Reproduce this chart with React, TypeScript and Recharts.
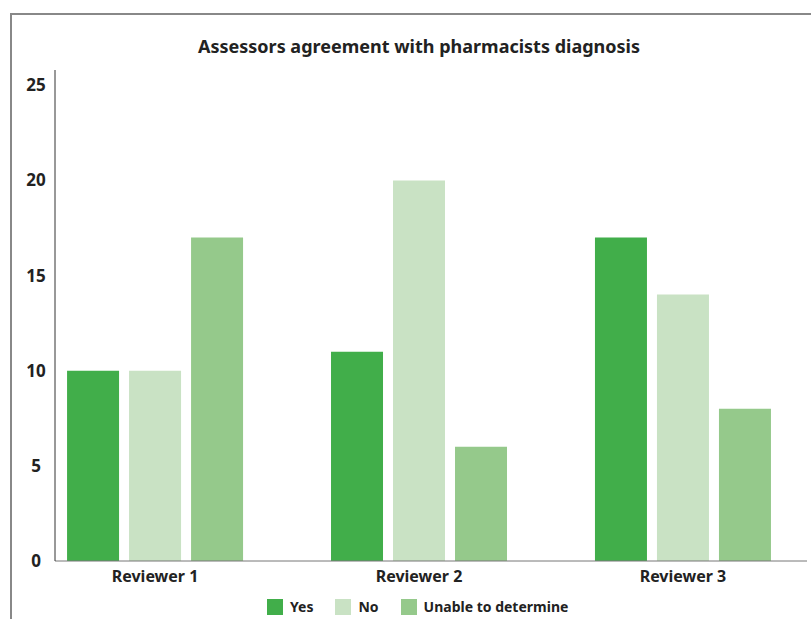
import { BarChart, Bar, XAxis, YAxis } from 'recharts';

const reviewers = ['Reviewer 1', 'Reviewer 2', 'Reviewer 3'];
const yesValues = [10, 11, 17];
const noValues = [10, 20, 14];
const unableValues = [17, 6, 8];
const yTicks = [0, 5, 10, 15, 20, 25];

const series = [
  { key: 'yes', name: 'Yes', color: '#41ae4a' },
  { key: 'no', name: 'No', color: '#c9e2c4' },
  { key: 'unable', name: 'Unable to determine', color: '#95c98b' },
];

const data = reviewers.map((name, i) => ({
  idx: i,
  name,
  yes: yesValues[i],
  no: noValues[i],
  unable: unableValues[i],
}));

const font = '"Noto Sans", "DejaVu Sans", sans-serif';

export default function App() {
  return (
    <div style={{ position: 'fixed', left: 0, top: 0, width: 811, height: 619, overflow: 'hidden', background: '#fff', fontFamily: font }}>
      <div
        style={{
          position: 'absolute',
          left: 10,
          top: 13,
          width: 900,
          height: 700,
          borderLeft: '2px solid #888',
          borderTop: '2px solid #888',
        }}
      />
      <div
        style={{
          position: 'absolute',
          left: 0,
          width: 838,
          top: 34,
          textAlign: 'center',
          fontWeight: 700,
          fontSize: 18,
          color: '#222',
        }}
      >
        Assessors agreement with pharmacists diagnosis
      </div>
      <div style={{ position: 'absolute', left: 0, top: 0 }}>
        <BarChart
          width={811}
          height={619}
          data={data}
          margin={{ top: 70, right: 4, bottom: 28, left: 0 }}
          barSize={52}
          barGap={10}
        >
          <XAxis
            dataKey="idx"
            type="number"
            domain={[-0.379, 2.47]}
            allowDataOverflow
            ticks={[0, 1, 2]}
            tickFormatter={(i: number) => reviewers[i]}
            height={30}
            stroke="#777"
            tickLine={false}
            tickMargin={4}
            tick={{ fill: '#222', fontSize: 16, fontWeight: 700, fontFamily: font }}
          />
          <YAxis
            domain={[0, 25.8]}
            ticks={yTicks}
            width={55}
            stroke="#333"
            tickLine={false}
            tickMargin={13}
            interval={0}
            tick={{ fill: '#222', fontSize: 17, fontWeight: 700, fontFamily: font, textAnchor: 'middle' }}
          />
          {series.map((s) => (
            <Bar key={s.key} dataKey={s.key} name={s.name} fill={s.color} isAnimationActive={false} />
          ))}
        </BarChart>
      </div>
      <div
        style={{
          position: 'absolute',
          top: 597,
          left: 267,
          display: 'flex',
          alignItems: 'center',
          fontSize: 14,
          fontWeight: 700,
          color: '#222',
        }}
      >
        {series.map((s) => (
          <div key={s.key} style={{ display: 'flex', alignItems: 'center', marginRight: 22 }}>
            <span style={{ display: 'inline-block', width: 16, height: 16, background: s.color, marginRight: 7 }} />
            <span>{s.name}</span>
          </div>
        ))}
      </div>
    </div>
  );
}
